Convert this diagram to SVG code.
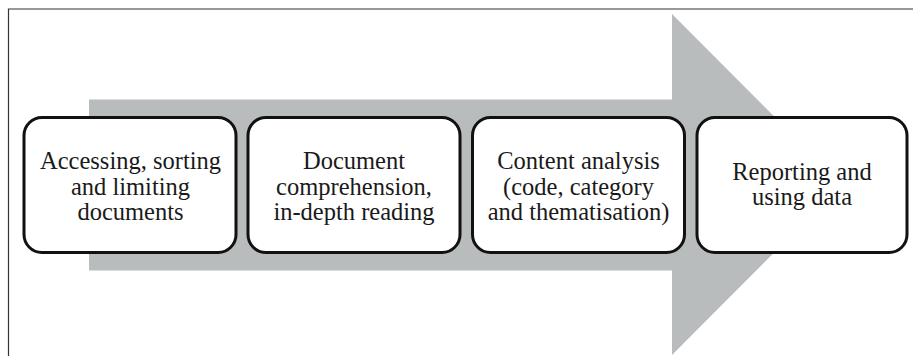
<svg xmlns="http://www.w3.org/2000/svg" width="913" height="356" viewBox="0 0 913 356">
<style>
.box{fill:#ffffff;stroke:#111111;stroke-width:3}
.t{font-family:"Liberation Serif","Times New Roman",serif;font-size:24.5px;fill:#1a1a1a;text-anchor:middle}
</style>
<rect width="913" height="356" fill="#ffffff"/>
<path d="M8.5,356 V9 H913" fill="none" stroke="#333333" stroke-width="1.2"/>
<g id="connectors">
<path id="arrow" d="M89,99.5 H672 V14 L842,184.5 L672,355 V270.5 H89 Z" fill="#b9bcbc"/>
</g>
<g id="node1">
<rect class="box" x="24" y="117.5" width="212" height="135" rx="18"/>
<text class="t"><tspan x="130.5" y="169">Accessing, sorting</tspan><tspan x="130.5" y="194.5">and limiting</tspan><tspan x="130.5" y="220">documents</tspan></text>
</g>
<g id="node2">
<rect class="box" x="248" y="117.5" width="212" height="135" rx="18"/>
<text class="t"><tspan x="354" y="169">Document</tspan><tspan x="354" y="194.5">comprehension,</tspan><tspan x="354" y="220">in-depth reading</tspan></text>
</g>
<g id="node3">
<rect class="box" x="472.5" y="117.5" width="212" height="135" rx="18"/>
<text class="t"><tspan x="578.5" y="169">Content analysis</tspan><tspan x="578.5" y="194.5">(code, category</tspan><tspan x="578.5" y="220">and thematisation)</tspan></text>
</g>
<g id="node4">
<rect class="box" x="697" y="117.5" width="210" height="135" rx="18"/>
<text class="t"><tspan x="802" y="179.5">Reporting and</tspan><tspan x="802" y="204.5">using data</tspan></text>
</g>
</svg>
